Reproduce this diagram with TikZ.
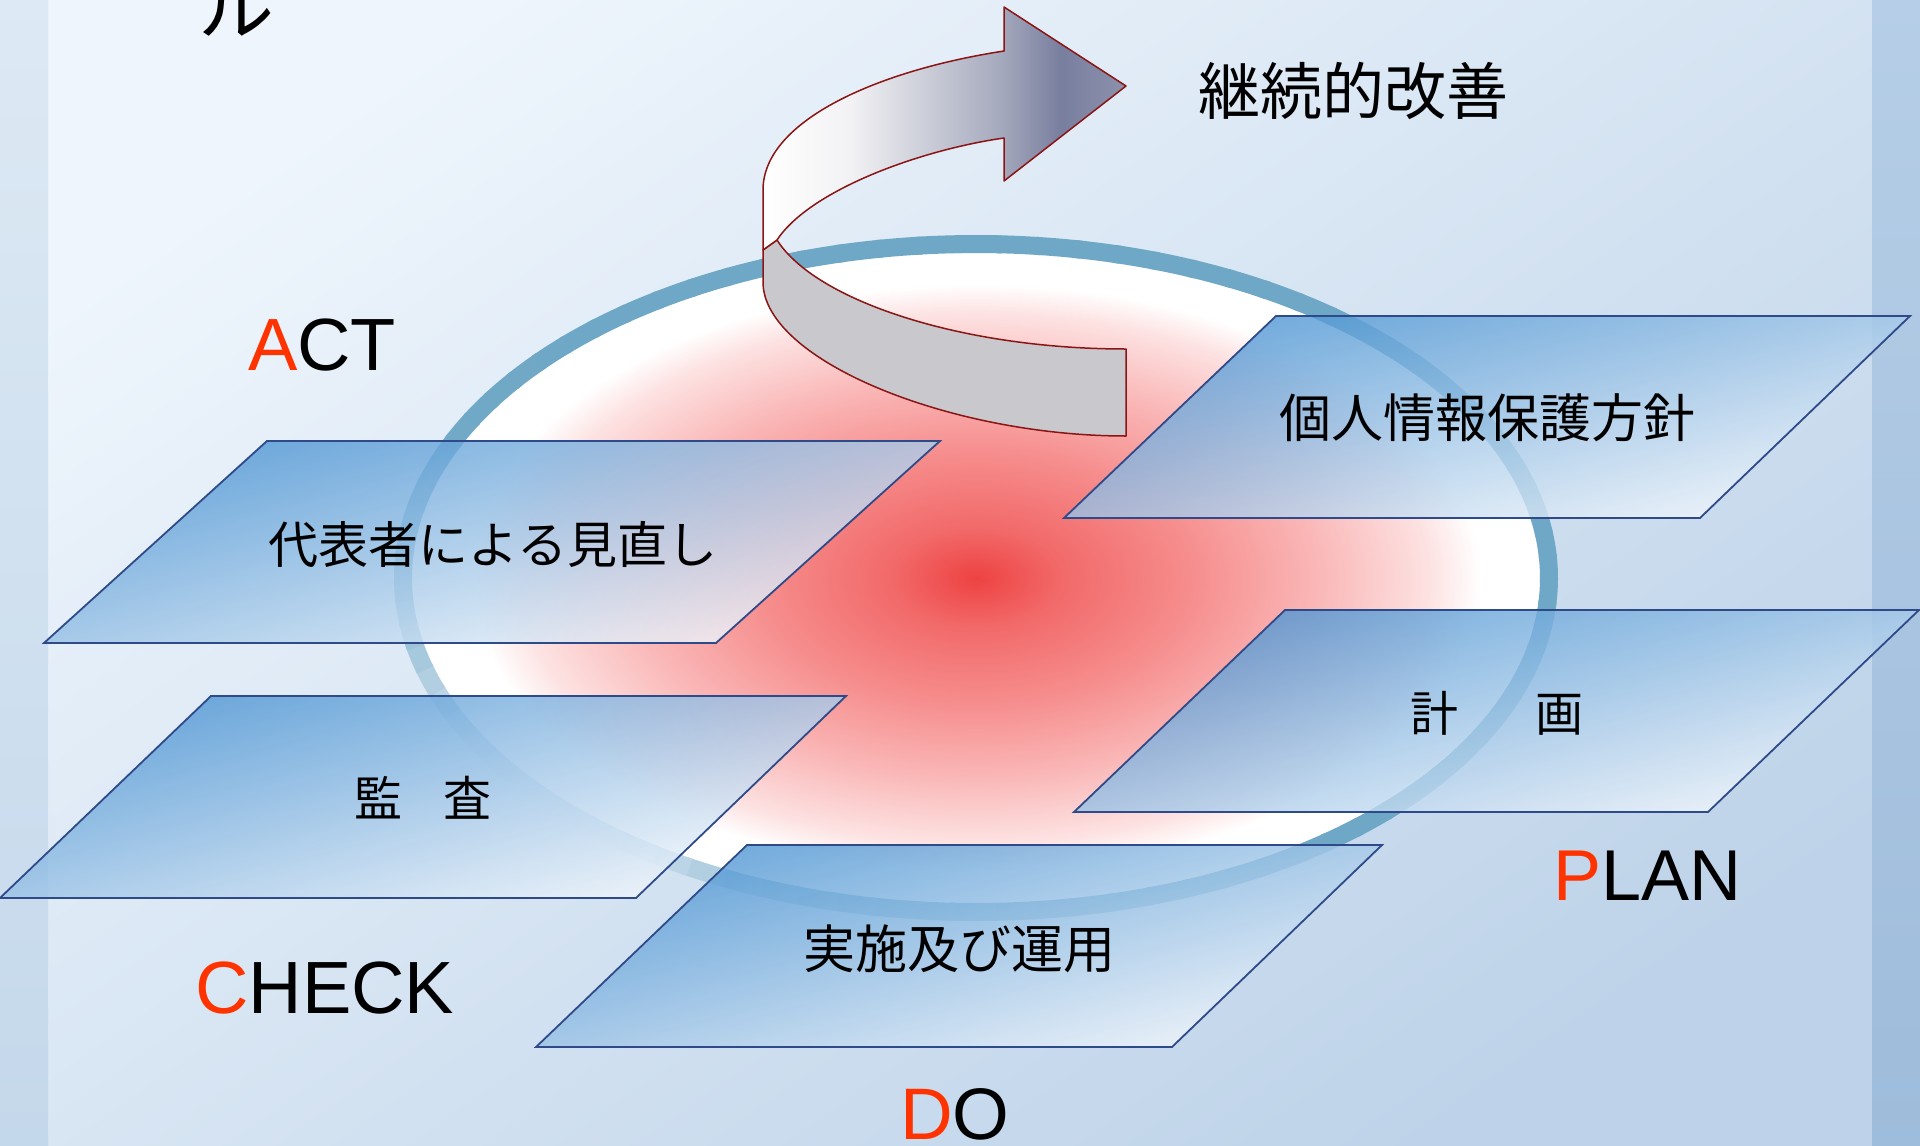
\documentclass[tikz,border=0pt]{standalone}
\usepackage{fontspec}
\setmainfont{Liberation Sans}
\newfontfamily\jp{Noto Sans CJK JP}
\usetikzlibrary{calc}

\definecolor{bgA}{HTML}{EEF5FC}
\definecolor{bgB}{HTML}{BED3E9}
\definecolor{bgmid}{HTML}{E2ECF6}
\definecolor{stripL1}{HTML}{DDE9F4}
\definecolor{stripL2}{HTML}{C4D8EB}
\definecolor{stripR1}{HTML}{B6CEE7}
\definecolor{stripR2}{HTML}{9EBCDB}
\definecolor{ringc}{HTML}{6FA8C6}
\definecolor{boxline}{HTML}{2F4A88}
\definecolor{boxtop}{HTML}{4892D2}
\definecolor{boxbot}{HTML}{F8FAFD}
\definecolor{redc}{HTML}{FF3300}
\definecolor{arrowline}{HTML}{8B1414}
\definecolor{grayband}{HTML}{C9C9CD}
\definecolor{glowA}{HTML}{EE4242}
\definecolor{glowB}{HTML}{F26A6A}
\definecolor{glowC}{HTML}{F68C8C}
\definecolor{glowD}{HTML}{FAB6B6}
\definecolor{glowE}{HTML}{FDE2E2}
\definecolor{arA}{HTML}{F2F2F4}
\definecolor{arB}{HTML}{A4A8BC}
\definecolor{arC}{HTML}{787E9E}
\definecolor{arD}{HTML}{8C92AC}

\pgfdeclareradialshading{glow}{\pgfpoint{0bp}{0bp}}{color(0bp)=(glowA); color(3.8bp)=(glowB); color(9.2bp)=(glowC); color(14.8bp)=(glowD); color(19.8bp)=(glowE); color(22bp)=(white); color(50bp)=(white)}
\pgfdeclarehorizontalshading{arrowsh}{100bp}{color(0bp)=(white); color(25bp)=(white); color(37bp)=(arA); color(58bp)=(arB); color(66bp)=(arC); color(75bp)=(arD); color(100bp)=(arD)}

\tikzset{
  pbox/.style={draw=boxline, line width=1.8pt, top color=boxtop, bottom color=boxbot, shading angle=15, fill opacity=0.8},
  jplabel/.style={font=\jp\fontsize{#1}{#1}\selectfont, inner sep=0pt},
  pdca/.style={font=\fontsize{#1}{#1}\selectfont, inner sep=0pt, anchor=base west},
  arrowedge/.style={draw=arrowline, line width=1.5pt, line join=round}
}

\begin{document}
\begin{tikzpicture}[x=1pt,y=-1pt]
\useasboundingbox (0,0) rectangle (1920,1146);
% background
\shade[top color=bgA, bottom color=bgB, shading angle=35] (0,0) rectangle (1920,1146);
\shade[top color=stripL1, bottom color=stripL2] (0,0) rectangle (48,1146);
\shade[top color=stripR1, bottom color=stripR2] (1872,0) rectangle (1920,1146);

% ellipse with red glow
\coordinate (C) at (976,578);
\fill[white] (C) ellipse [x radius=573, y radius=334];
\shade[shading=glow] (C) ellipse [x radius=573, y radius=334];

% ring, fading in the lower left
\foreach \a in {0,4,...,356}{
  \pgfmathsetmacro\p{100*(1-0.88*exp(-((\a+2-140)/34)^2))}
  \draw[line width=18pt, draw=ringc!\p!bgmid] ($(C)+(\a:573 and 334)$) arc[start angle=\a, end angle=\a+4.6, x radius=573, y radius=334];
}

% curved arrow: back band
\draw[arrowedge, fill=grayband] (777,240) .. controls (815,300) and (960,349) .. (1126,349) -- (1126,436) .. controls (950,436) and (763,360) .. (763,282) -- (763,250) -- cycle;
% front band with head
\draw[arrowedge, shading=arrowsh] (763,190) .. controls (763,120) and (880,70) .. (1004,51) -- (1004,7) -- (1126,86) -- (1004,181) -- (1004,138) .. controls (920,150) and (810,190) .. (777,240) -- (763,250) -- cycle;

% parallelograms
\draw[pbox] (267,441) -- (940,441) -- (716,643) -- (44,643) -- cycle;
\draw[pbox] (211,696) -- (846,696) -- (636,898) -- (0,898) -- cycle;
\draw[pbox] (747,845) -- (1382,845) -- (1172,1047) -- (536,1047) -- cycle;
\draw[pbox] (1276,316) -- (1910,316) -- (1700,518) -- (1064,518) -- cycle;
\draw[pbox] (1285,610) -- (1919,610) -- (1708,812) -- (1074,812) -- cycle;

% box labels
\node[jplabel=50] (act) at (493,544) {代表者による見直し};
\node[jplabel=48] (chk) at (423,798) {監\hspace{41pt}査};
\node[jplabel=52] (do) at (959,949) {実施及び運用};
\node[jplabel=52] (pol) at (1487,418) {個人情報保護方針};
\node[jplabel=48] (plan) at (1497,713) {計\hspace{77pt}画};

% arrow label
\node[jplabel=62] (kaizen) at (1353,91) {継続的改善};

% title fragment
\node[font=\jp\fontsize{76}{76}\selectfont, inner sep=0pt, anchor=base] (ru) at (236,34) {ル};

% PDCA words
\node[pdca=74] (wACT) at (248,370) {{\color{redc}A}CT};
\node[pdca=74] (wCHECK) at (195,1013) {{\color{redc}C}HECK};
\node[pdca=72] (wPLAN) at (1553,900) {{\color{redc}P}LAN};
\node[pdca=73] (wDO) at (900,1139) {{\color{redc}D}O};
\end{tikzpicture}
\end{document}
